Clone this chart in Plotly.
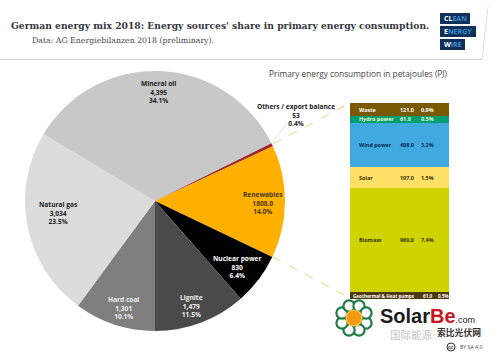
import math
import plotly.graph_objects as go

# ---------- data ----------
pie_names = ["Hard coal", "Natural gas", "Mineral oil", "Others / export balance", "Renewables", "Nuclear power", "Lignite"]
pie_values = [1301, 3034, 4395, 53, 1808, 830, 1479]
pie_value_labels = ["1,301", "3,034", "4,395", "53", "1808.0", "830", "1,479"]
pie_shares = ["10.1%", "23.5%", "34.1%", "0.4%", "14.0%", "6.4%", "11.5%"]
pie_colors = ["#7f7f7f", "#dcdcdc", "#c8c8c8", "#a0282d", "#ffb000", "#000000", "#4a4a4a"]
pie_text_colors = ["#eeeeee", "#222222", "#222222", "#222222", "#4a3500", "#ffffff", "#eeeeee"]
pie_label_px = [(123, 308), (58, 213), (158, 92), (296, 115), (263, 203), (237, 267), (191, 306)]

bar_names = ["Geothermal & Heat pumps", "Biomass", "Solar", "Wind power", "Hydro power", "Waste"]
bar_values = [61.0, 960.0, 197.0, 408.0, 61.0, 121.0]
bar_shares = ["0.5%", "7.4%", "1.5%", "3.2%", "0.5%", "0.9%"]
bar_colors = ["#4f3a10", "#cfd400", "#ffe066", "#3fa9e0", "#009e73", "#7a5a00"]
bar_text_colors = ["#ffffff", "#333300", "#333300", "#0a2a50", "#f4f4c0", "#ffffff"]

W, H = 494, 360
def px(x): return x / W
def py(y): return 1 - y / H

fig = go.Figure()

# ---------- pie ----------
fig.add_trace(go.Pie(
    labels=pie_names, values=pie_values, sort=False, direction="clockwise", rotation=180,
    marker=dict(colors=pie_colors, line=dict(width=0)), textinfo="none", hoverinfo="label+value",
    showlegend=False, domain=dict(x=[px(25), px(285)], y=[py(331), py(71)]),
))

# ---------- stacked bar ----------
for name, value, color in zip(bar_names, bar_values, bar_colors):
    fig.add_trace(go.Bar(x=[0], y=[value], name=name, width=1, marker=dict(color=color, line=dict(width=0)),
                         showlegend=False, hoverinfo="name+y"))

annotations = []
def note(text, x, y, size=7, color="#222222", family="Open Sans, sans-serif", xanchor="center", bold=False, **kw):
    t = f"<b>{text}</b>" if bold else text
    d = dict(text=t, x=x, y=y, xref=kw.pop("xref", "paper"), yref=kw.pop("yref", "paper"), showarrow=False,
             xanchor=xanchor, yanchor="middle", font=dict(size=size, color=color, family=family))
    d.update(kw)
    annotations.append(d)

# pie labels
for name, val, share, col, (lx, ly) in zip(pie_names, pie_value_labels, pie_shares, pie_text_colors, pie_label_px):
    note(f"{name}<br>{val}<br>{share}", px(lx), py(ly), size=6.6, color=col, bold=True, align="center")

# bar labels, placed on the bar's own y scale
cum = 0
for i, (name, value, share, col) in enumerate(zip(bar_names, bar_values, bar_shares, bar_text_colors)):
    mid = cum + value / 2
    cum += value
    if i == 0:
        note(name, -0.49, mid, size=4.6, color=col, xanchor="left", xref="x", yref="y", bold=True)
        note(f"{value:.1f}", 0.22, mid, size=4.6, color=col, xanchor="left", xref="x", yref="y", bold=True)
        note(share, 0.37, mid, size=4.6, color=col, xanchor="left", xref="x", yref="y", bold=True)
    else:
        note(name, -0.43, mid, size=5.4, color=col, xanchor="left", xref="x", yref="y", bold=True)
        note(f"{value:.1f}", -0.02, mid, size=5.4, color=col, xanchor="left", xref="x", yref="y", bold=True)
        note(share, 0.20, mid, size=5.4, color=col, xanchor="left", xref="x", yref="y", bold=True)

# header
note("German energy mix 2018: Energy sources' share in primary energy consumption.", px(9), py(26),
     size=9.2, color="#33373d", family="DejaVu Serif, serif", xanchor="left", bold=True)
note("Data: AG Energiebilanzen 2018 (preliminary).", px(30), py(40), size=7.8, color="#444444",
     family="DejaVu Serif, serif", xanchor="left")
note("Primary energy consumption in petajoules (PJ)", px(267), py(74), size=8.3, color="#444444", xanchor="left")
note("<b>CL<span style='color:#3a8fd0'>EAN</span></b>", px(442), py(18.5), size=7, color="#ffffff", xanchor="left")
note("<b>E<span style='color:#3a8fd0'>NERGY</span></b>", px(442), py(31.5), size=7, color="#ffffff", xanchor="left")
note("<b>W<span style='color:#3a8fd0'>IRE</span></b>", px(442), py(44.5), size=7, color="#ffffff", xanchor="left")

# watermark text
note("<b>Solar<span style='color:#c8161d'>Be</span></b><span style='font-size:9px'>.com</span>", px(378), py(316), size=20,
     color="#1a1a1a", family="Liberation Sans, sans-serif", xanchor="left")
note("<b>索比光伏网</b>", px(435), py(332), size=8.8, color="#333333", family="Noto Sans CJK SC", xanchor="left")
note("国际能源", px(388), py(334), size=10.5, color="#c4c4c4", family="Noto Sans CJK SC", xanchor="left")
note("BY SA 4.0", px(458), py(347), size=5.2, color="#444444", xanchor="left")
note("cc", px(451), py(347), size=5, color="#333333", bold=True)

# ---------- shapes ----------
shapes = []
def line(x0, y0, x1, y1, color, width=1, dash="solid"):
    shapes.append(dict(type="line", xref="paper", yref="paper", x0=px(x0), y0=py(y0), x1=px(x1), y1=py(y1),
                       line=dict(color=color, width=width, dash=dash), layer="above"))
def rect(x0, y0, x1, y1, color):
    shapes.append(dict(type="rect", xref="paper", yref="paper", x0=px(x0), y0=py(y0), x1=px(x1), y1=py(y1),
                       fillcolor=color, line=dict(width=0), layer="below"))
def circle(cx, cy, r, fill, border=None, bw=0):
    shapes.append(dict(type="circle", xref="paper", yref="paper", x0=px(cx - r), y0=py(cy + r), x1=px(cx + r), y1=py(cy - r),
                       fillcolor=fill, line=dict(color=border or fill, width=bw), layer="above"))

line(0, 59.5, 482, 59.5, "#cfcfcf", 1.2)
line(482, 59.5, 488, 7, "#dddddd", 1)
rect(440, 13, 470, 24, "#10305a")
rect(440, 26, 476, 37, "#10305a")
rect(440, 39, 465, 50, "#10305a")

# connectors
line(273, 144, 350, 103, "#f3cf85", 1, "dash")
line(273, 257, 350, 298, "#f3cf85", 1, "dash")
line(272, 142, 287, 124, "#e4e4e4", 1)

# flower logo
fcx, fcy, petals = 354, 318, 8
for k in range(petals):
    a = 2 * math.pi * k / petals + math.pi / 8
    circle(fcx + 13 * math.cos(a), fcy + 13 * math.sin(a), 5.6, "#ffffff", "#1e7a46", 2.2)
circle(fcx, fcy, 8, "#f59a12", "#ffd34d", 1.2)
circle(451, 347, 4, "rgba(0,0,0,0)", "#333333", 1)

fig.update_layout(
    width=W, height=H, margin=dict(l=0, r=0, t=0, b=0), autosize=False,
    paper_bgcolor="#ffffff", plot_bgcolor="rgba(0,0,0,0)", barmode="stack", bargap=0,
    xaxis=dict(domain=[px(350), px(449)], range=[-0.5, 0.5], visible=False, fixedrange=True),
    yaxis=dict(domain=[py(299), py(103)], range=[0, sum(bar_values)], visible=False, fixedrange=True),
    annotations=annotations, shapes=shapes,
)
fig.write_html("out.html", config=dict(displayModeBar=False),
               post_script="document.body.style.margin='0';")
